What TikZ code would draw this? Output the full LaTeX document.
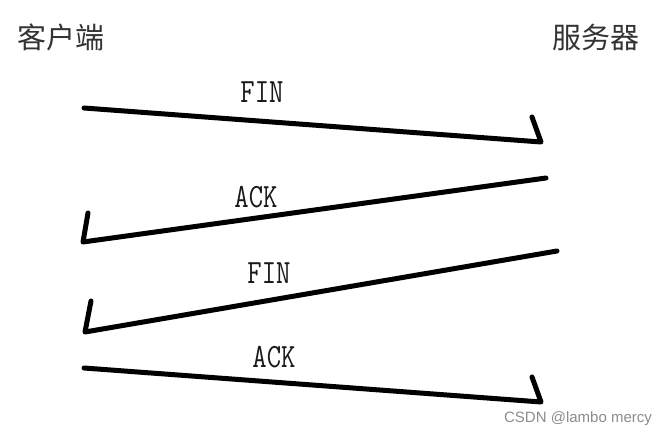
\documentclass[tikz,border=0pt]{standalone}
\usepackage{fontspec}
\newfontfamily\cjk{Noto Sans CJK SC}
\newfontfamily\wmfont{Liberation Sans}
\usepackage{tikz}

\newcommand{\msgtext}[1]{\scalebox{0.82}[1]{#1}}

\begin{document}
\begin{tikzpicture}[x=1pt,y=-1pt,
  msg/.style={line width=5pt,line cap=round,line join=round},
  peer/.style={font=\cjk\fontsize{29}{29}\selectfont,text=black!80},
  lbl/.style={font=\ttfamily\fontsize{34}{34}\selectfont,inner sep=0pt,text=black!90}]
  \useasboundingbox[fill=white] (0,0) rectangle (671,438);
  \node[peer] (client) at (61,37) {客户端};
  \node[peer] (server) at (596,37) {服务器};
  \coordinate (c1) at (84,108);
  \coordinate (s1) at (541,142);
  \coordinate (h1) at (532,117);
  \coordinate (s2) at (546,178);
  \coordinate (c2) at (83,242);
  \coordinate (h2) at (88,213);
  \coordinate (s3) at (557,251);
  \coordinate (c3) at (85,332);
  \coordinate (h3) at (91,301);
  \coordinate (c4) at (84,368);
  \coordinate (s4) at (541,402);
  \coordinate (h4) at (532,377);
  \draw[msg] (c1) -- (s1) -- (h1);
  \draw[msg] (s2) -- (c2) -- (h2);
  \draw[msg] (s3) -- (c3) -- (h3);
  \draw[msg] (c4) -- (s4) -- (h4);
  \node[lbl] (fin1) at (262,92) {\msgtext{FIN}};
  \node[lbl] (ack1) at (256,197) {\msgtext{ACK}};
  \node[lbl] (fin2) at (269,273) {\msgtext{FIN}};
  \node[lbl] (ack2) at (274,357) {\msgtext{ACK}};
  \node[font=\wmfont\fontsize{15}{15}\selectfont,text=black!45] (mark) at (578,419) {CSDN @lambo mercy};
\end{tikzpicture}
\end{document}
